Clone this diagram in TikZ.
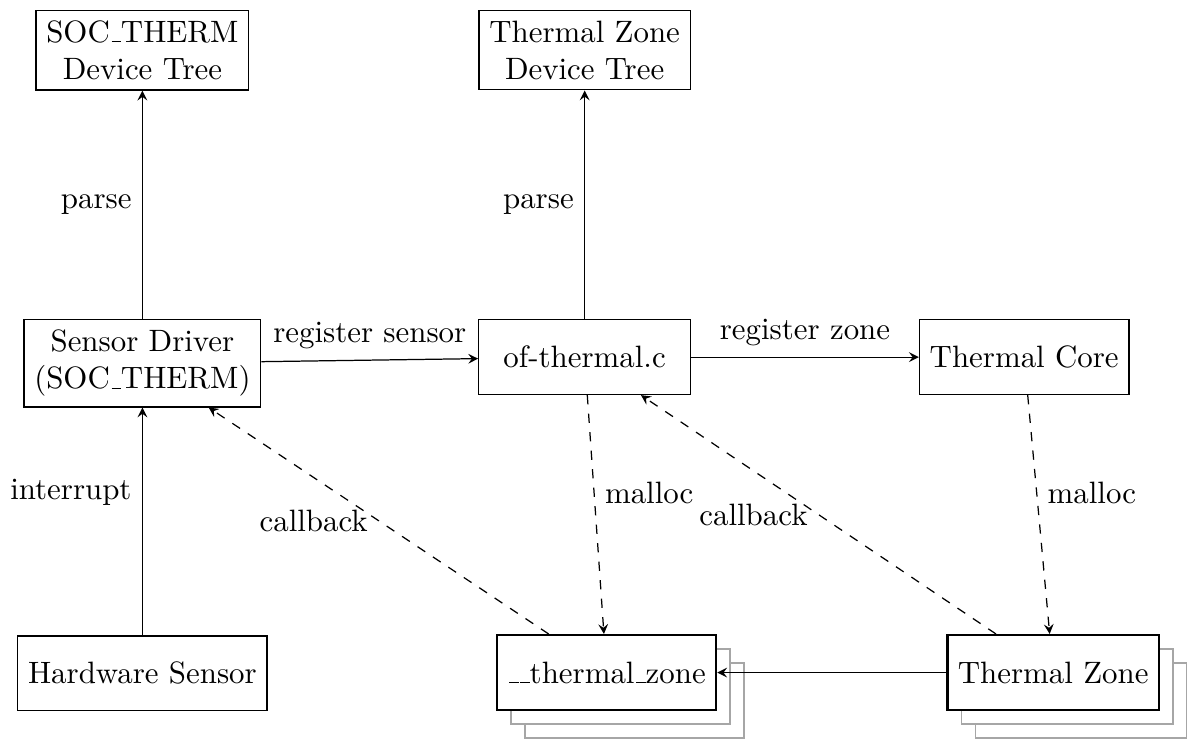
\documentclass[tikz,border=0pt]{standalone}
\usetikzlibrary{arrows,shadows}
\newcommand{\us}{\leavevmode\kern.06em\vbox{\hrule width.3em}}

\begin{document}
\begin{tikzpicture}[>=stealth,
	block/.style={rectangle,draw,align=center,minimum height=0.85cm},
	zonebox/.style={rectangle,draw,thick,fill=white,minimum height=0.85cm,
		general shadow={shadow xshift=9pt,shadow yshift=-9pt,fill=white,draw=gray!70,line width=.5pt},
		general shadow={shadow xshift=4.5pt,shadow yshift=-4.5pt,fill=white,draw=gray!70,line width=.5pt}},
	call/.style={->,dashed},
	]
	\useasboundingbox (0,0) rectangle (13.57,-8.42);
	% top row: device trees
	\node (socdt) [block] at (1.62,-0.57) {SOC\us THERM\\Device Tree};
	\node (tzdt) [block] at (6.65,-0.57) {Thermal Zone\\Device Tree};
	% middle row
	\node (driver) [block,anchor=north] at (1.62,-3.63) {Sensor Driver\\(SOC\us THERM)};
	\node (ofthermal) [block,anchor=north,minimum width=2.41cm] at (6.65,-3.63) {of-thermal.c};
	\node (core) [block,anchor=north] at (11.65,-3.63) {Thermal Core};
	% bottom row
	\node (hw) [block] at (1.62,-7.66) {Hardware Sensor};
	\node (tzint) [zonebox] at (6.90,-7.65) {\us\us thermal\us zone};
	\node (tz) [zonebox] at (11.98,-7.65) {Thermal Zone};

	\draw[->] (driver) -- node[left]{parse} (socdt);
	\draw[->] (ofthermal) -- node[left]{parse} (tzdt);
	\draw[->] (driver) -- node[above]{register sensor} (ofthermal);
	\draw[->] (ofthermal) -- node[above]{register zone} (core);
	\draw[->] (hw) -- node[left,pos=.63]{interrupt} (driver);
	\draw[call] (ofthermal) -- node[right,pos=.41]{malloc} (tzint);
	\draw[call] (core) -- node[right,pos=.41]{malloc} (tz);
	\draw[call] (tzint) -- node[left]{callback} (driver);
	\draw[call] (tz) -- node[left]{callback} (ofthermal);
	\draw[->] (tz) -- (tzint);
\end{tikzpicture}
\end{document}
